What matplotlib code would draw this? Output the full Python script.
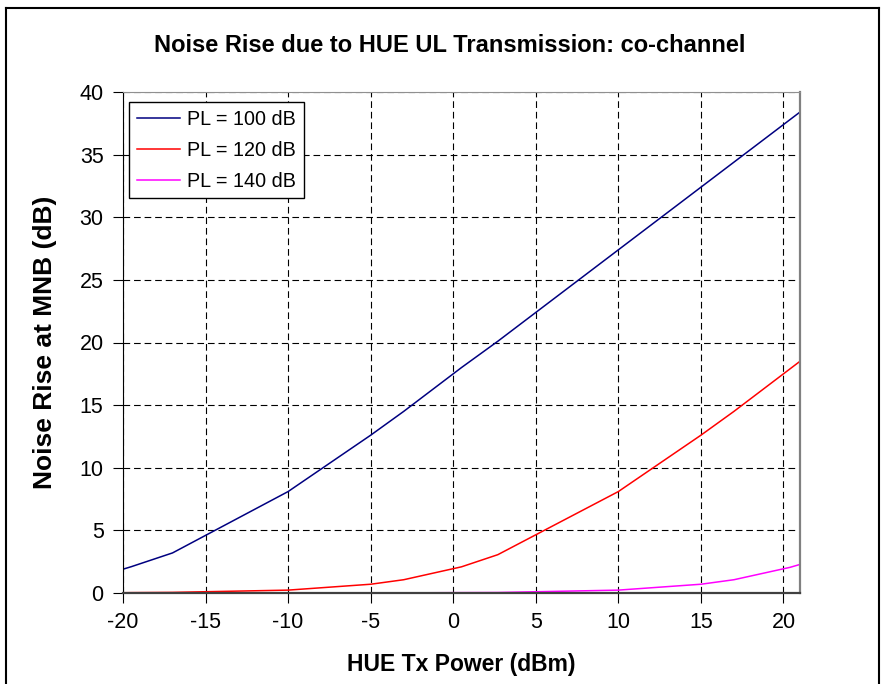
import matplotlib.pyplot as plt
from matplotlib.lines import Line2D

plt.rcParams['font.family'] = ['Liberation Sans', 'DejaVu Sans']
plt.rcParams['axes.unicode_minus'] = False

# HUE Tx power (dBm) sample points
tx_power = [-20, -19.5, -17, -10, -5, -3, 0.5, 2.7, 10, 15, 17, 20.4, 21]

# noise rise (dB) for each path loss
rise_pl100 = [1.9, 2.1, 3.2, 8.1, 12.6, 14.5, 18.0, 20.1, 27.4, 32.4, 34.4, 37.8, 38.4]
rise_pl120 = [0.02, 0.03, 0.05, 0.23, 0.7, 1.06, 2.09, 3.06, 8.1, 12.6, 14.5, 17.9, 18.5]
rise_pl140 = [0.0, 0.0, 0.0, 0.0, 0.01, 0.01, 0.03, 0.04, 0.23, 0.7, 1.06, 2.05, 2.28]

labels = ['PL = 100 dB', 'PL = 120 dB', 'PL = 140 dB']
colors = ['#000080', '#FF0000', '#FF00FF']

fig = plt.figure(figsize=(8.86, 6.84), dpi=100)
ax = fig.add_axes([123 / 886, 1 - 593 / 684, 677 / 886, 501 / 684])

for ys, lab, col in zip([rise_pl100, rise_pl120, rise_pl140], labels, colors):
    ax.plot(tx_power, ys, color=col, lw=1.1, label=lab, solid_joinstyle='miter')

ax.set_xlim(-20, 21)
ax.set_ylim(0, 40)
ax.set_xticks(range(-20, 21, 5))
ax.set_yticks(range(0, 41, 5))
ax.grid(True, color='black', linestyle=(0, (6, 3.5)), lw=0.8)
ax.set_axisbelow(True)

ax.tick_params(axis='both', labelsize=15.5, length=7, width=0.8, color='black')
ax.tick_params(axis='x', direction='out', pad=7)
ax.tick_params(axis='y', direction='out', pad=7)

ax.spines['left'].set_color('black')
ax.spines['bottom'].set_color('#404040')
ax.spines['bottom'].set_linewidth(1.6)
ax.spines['top'].set_color('#909090')
ax.spines['right'].set_color('#808080')
ax.spines['right'].set_linewidth(1.6)

ax.set_xlabel('HUE Tx Power (dBm)', fontsize=16.5, fontweight='bold', labelpad=14)
ax.set_ylabel('Noise Rise at MNB (dB)', fontsize=19, fontweight='bold', labelpad=16)
fig.text(0.5 + 7 / 886, 1 - 45 / 684, 'Noise Rise due to HUE UL Transmission: co-channel',
         ha='center', va='center', fontsize=17, fontweight='bold')

leg = ax.legend(loc='upper left', bbox_to_anchor=(6 / 677, 1 - 10 / 501), fontsize=14.2,
                frameon=True, fancybox=False, edgecolor='black', framealpha=1,
                handlelength=2.2, handletextpad=0.35, labelspacing=0.6, borderpad=0.4,
                borderaxespad=0)
leg.get_frame().set_linewidth(1.0)

# outer chart border
fx = [6 / 886, 879 / 886]
fy = [1 - 8 / 684, -0.01]
fig.add_artist(Line2D([fx[0], fx[0]], [fy[1], fy[0]], color='black', lw=1.5))
fig.add_artist(Line2D([fx[0], fx[1]], [fy[0], fy[0]], color='black', lw=1.5))
fig.add_artist(Line2D([fx[1], fx[1]], [fy[0], fy[1]], color='black', lw=1.5))

fig.savefig('out.png', dpi=100)
